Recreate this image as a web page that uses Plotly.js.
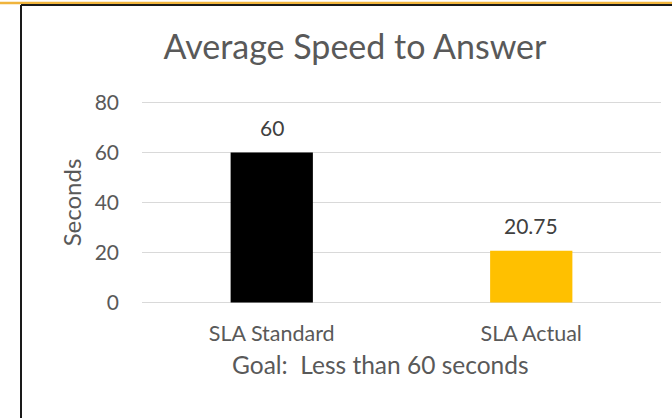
<!DOCTYPE html>
<html>
<head>
<meta charset="utf-8">
<script src="https://cdn.plot.ly/plotly-3.0.1.min.js"></script>
<style>
  html, body { margin: 0; padding: 0; background: #ffffff; }
  #chart { width: 672px; height: 418px; }
</style>
</head>
<body>
<div id="chart"></div>
<script>
const categories = ["SLA Standard", "SLA Actual"];
const values = [60, 20.75];
const valueLabels = ["60", "20.75"];
const barColors = ["#000000", "#FFC000"];
const yTicks = [0, 20, 40, 60, 80];
const chartTitle = "Average Speed to Answer";
const yTitle = "Seconds";
const xTitle = "Goal:\u00a0 Less than 60 seconds";

const FONT = "Lato, 'Open Sans', sans-serif";

const trace = {
  type: "bar",
  x: categories,
  y: values,
  marker: { color: barColors },
  width: 0.317,
  hoverinfo: "x+y"
};

// pixel -> paper helpers for decorative frame
const L = 142, R = 11, T = 100, B = 113, W = 672, H = 418;
const pw = W - L - R, ph = H - T - B;
const px = p => (p - L) / pw;
const py = p => (H - B - p) / ph;

const annotations = categories.map((c, i) => ({
  x: c, y: values[i], xref: "x", yref: "y",
  text: valueLabels[i], showarrow: false,
  yanchor: "bottom", yshift: 11,
  font: { family: FONT, size: 21, color: "#404040" }
}));
annotations.push({
  x: px(380), y: py(364), xref: "paper", yref: "paper",
  text: xTitle, showarrow: false, xanchor: "center", yanchor: "middle",
  font: { family: FONT, size: 24.5, color: "#595959" }
});

const layout = {
  width: W, height: H,
  margin: { l: L, r: R, t: T, b: B, pad: 0 },
  paper_bgcolor: "#ffffff",
  plot_bgcolor: "#ffffff",
  showlegend: false,
  title: {
    text: chartTitle,
    x: 355 / W, xanchor: "center", xref: "container",
    y: 1 - 47 / H, yanchor: "middle", yref: "container",
    font: { family: FONT, size: 34, color: "#595959" }
  },
  xaxis: {
    type: "category",
    showgrid: false, zeroline: false, showline: false,
    ticks: "", ticklabelstandoff: 13,
    tickfont: { family: FONT, size: 21.5, color: "#595959" },
    fixedrange: true
  },
  yaxis: {
    range: [-1, 81],
    tickvals: yTicks,
    ticktext: yTicks.map(String),
    showgrid: true, gridcolor: "#d9d9d9", gridwidth: 1.5,
    zeroline: false, showline: false,
    ticks: "", ticklabelstandoff: 22,
    tickfont: { family: FONT, size: 21, color: "#595959" },
    title: { text: yTitle, standoff: 6, font: { family: FONT, size: 24, color: "#595959" } },
    fixedrange: true
  },
  annotations: annotations,
  shapes: [
    { type: "line", xref: "paper", yref: "paper", x0: px(0), x1: px(W), y0: py(3), y1: py(3),
      line: { color: "#F0B43C", width: 2.5 }, layer: "above" },
    { type: "line", xref: "paper", yref: "paper", x0: px(21), x1: px(W), y0: py(5), y1: py(5),
      line: { color: "#1a1a1a", width: 2 }, layer: "above" },
    { type: "line", xref: "paper", yref: "paper", x0: px(21), x1: px(21), y0: py(5), y1: py(H),
      line: { color: "#1a1a1a", width: 2 }, layer: "above" }
  ]
};

Plotly.newPlot("chart", [trace], layout, { displayModeBar: false, staticPlot: true });
</script>
</body>
</html>
